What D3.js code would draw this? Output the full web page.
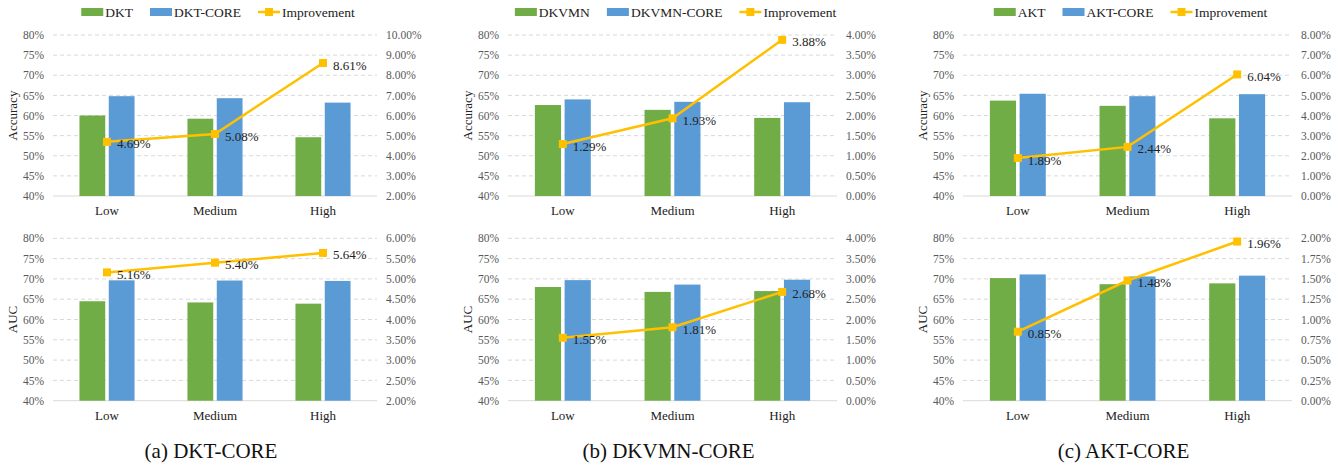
<!DOCTYPE html>
<html>
<head>
<meta charset="utf-8">
<script src="https://cdn.jsdelivr.net/npm/d3@7"></script>
<style>
  body { margin: 0; background: #fff; }
  svg { display: block; font-family: "Liberation Serif", "Times New Roman", serif; }
  svg text { font-family: "Liberation Serif", "Times New Roman", serif; }
</style>
</head>
<body>
<svg id="chart" width="1342" height="463"></svg>
<script>
// categories
const levels = ["Low", "Medium", "High"];

// DKT
const dktAcc = [60.0, 59.2, 54.6];
const dktCoreAcc = [64.8, 64.3, 63.2];
const dktAccImp = [4.69, 5.08, 8.61];
const dktAuc = [64.5, 64.2, 63.9];
const dktCoreAuc = [69.65, 69.6, 69.5];
const dktAucImp = [5.16, 5.40, 5.64];

// DKVMN
const dkvmnAcc = [62.6, 61.4, 59.4];
const dkvmnCoreAcc = [64.0, 63.4, 63.3];
const dkvmnAccImp = [1.29, 1.93, 3.88];
const dkvmnAuc = [68.0, 66.8, 67.0];
const dkvmnCoreAuc = [69.7, 68.6, 69.8];
const dkvmnAucImp = [1.55, 1.81, 2.68];

// AKT
const aktAcc = [63.7, 62.4, 59.3];
const aktCoreAcc = [65.4, 64.8, 65.3];
const aktAccImp = [1.89, 2.44, 6.04];
const aktAuc = [70.2, 68.7, 68.9];
const aktCoreAuc = [71.1, 70.6, 70.8];
const aktAucImp = [0.85, 1.48, 1.96];

// axis ranges
const leftDomain = [40, 80];
const leftTicks = [40, 45, 50, 55, 60, 65, 70, 75, 80];
const rightDomains = [[2, 10], [2, 6], [0, 4], [0, 4], [0, 8], [0, 2]];
const rightSteps = [1, 0.5, 0.5, 0.5, 1, 0.25];

const modelNames = [["DKT", "DKT-CORE"], ["DKVMN", "DKVMN-CORE"], ["AKT", "AKT-CORE"]];
const captions = ["(a) DKT-CORE", "(b) DKVMN-CORE", "(c) AKT-CORE"];
const rowTitles = ["Accuracy", "AUC"];

const panels = [
  { col: 0, row: 0, base: dktAcc, core: dktCoreAcc, imp: dktAccImp },
  { col: 0, row: 1, base: dktAuc, core: dktCoreAuc, imp: dktAucImp },
  { col: 1, row: 0, base: dkvmnAcc, core: dkvmnCoreAcc, imp: dkvmnAccImp },
  { col: 1, row: 1, base: dkvmnAuc, core: dkvmnCoreAuc, imp: dkvmnAucImp },
  { col: 2, row: 0, base: aktAcc, core: aktCoreAcc, imp: aktAccImp },
  { col: 2, row: 1, base: aktAuc, core: aktCoreAuc, imp: aktAucImp }
];

const green = "#70ad47", blue = "#5b9bd5", orange = "#ffc000";
const gridColor = "#d9d9d9", tickColor = "#595959";
const serif = "Liberation Serif, Times New Roman, serif";

// layout
const colX = [[53, 377], [508, 837], [963, 1292]];
const rowY = [[35, 196], [238.3, 400.7]];
const titleX = [12, 467, 922];

const svg = d3.select("#chart");

panels.forEach((p, i) => {
  const [x0, x1] = colX[p.col];
  const [yt, yb] = rowY[p.row];
  const g = svg.append("g");

  const x = d3.scaleBand().domain(levels).range([x0, x1]);
  const xs = d3.scaleBand().domain(["base", "core"]).range([0, x.bandwidth() * 0.51]).paddingInner(0.12);
  const groupOff = (x.bandwidth() - x.bandwidth() * 0.51) / 2;
  const y = d3.scaleLinear().domain(leftDomain).range([yb, yt]);
  const yr = d3.scaleLinear().domain(rightDomains[i]).range([yb, yt]);
  const rTicks = d3.range(rightDomains[i][0], rightDomains[i][1] + 1e-9, rightSteps[i]);

  // gridlines
  g.append("g").selectAll("line").data(leftTicks.slice(1)).join("line")
    .attr("x1", x0).attr("x2", x1)
    .attr("y1", d => y(d)).attr("y2", d => y(d))
    .attr("stroke", gridColor).attr("stroke-width", 1).attr("stroke-dasharray", "4,3");
  g.append("line").attr("x1", x0).attr("x2", x1).attr("y1", y(40)).attr("y2", y(40))
    .attr("stroke", gridColor).attr("stroke-width", 1);

  // left axis
  const la = g.append("g").attr("transform", `translate(${x0 - 9},0)`)
    .call(d3.axisLeft(y).tickValues(leftTicks).tickSize(0).tickPadding(0).tickFormat(d => d + "%"))
    .attr("font-family", serif);
  la.select(".domain").remove();
  la.selectAll("text").attr("fill", tickColor).style("font-size", "11.5px");

  // right axis
  const ra = g.append("g").attr("transform", `translate(${x1 + 9},0)`)
    .call(d3.axisRight(yr).tickValues(rTicks).tickSize(0).tickPadding(0).tickFormat(d => d.toFixed(2) + "%"))
    .attr("font-family", serif);
  ra.select(".domain").remove();
  ra.selectAll("text").attr("fill", tickColor).style("font-size", "11.5px");

  // category axis
  const ca = g.append("g").attr("transform", `translate(0,${yb + 10})`)
    .call(d3.axisBottom(x).tickSize(0).tickPadding(0))
    .attr("font-family", serif);
  ca.select(".domain").remove();
  ca.selectAll("text").attr("fill", "#222").style("font-size", "13px");

  // y title
  g.append("text")
    .attr("transform", `translate(${titleX[p.col]},${(yt + yb) / 2}) rotate(-90)`)
    .attr("text-anchor", "middle").attr("dy", "0.35em")
    .attr("fill", "#222").style("font-size", "13px")
    .text(rowTitles[p.row]);

  // bars
  const rows = levels.map((lv, k) => ({ lv, base: p.base[k], core: p.core[k], imp: p.imp[k] }));
  g.append("g").selectAll("rect").data(rows).join("rect")
    .attr("x", d => x(d.lv) + groupOff + xs("base"))
    .attr("width", xs.bandwidth())
    .attr("y", d => y(d.base))
    .attr("height", d => y(40) - y(d.base))
    .attr("fill", green);
  g.append("g").selectAll("rect").data(rows).join("rect")
    .attr("x", d => x(d.lv) + groupOff + xs("core"))
    .attr("width", xs.bandwidth())
    .attr("y", d => y(d.core))
    .attr("height", d => y(40) - y(d.core))
    .attr("fill", blue);

  // improvement line
  const cx = d => x(d.lv) + x.bandwidth() / 2;
  g.append("path").datum(rows)
    .attr("fill", "none").attr("stroke", orange).attr("stroke-width", 2.5)
    .attr("d", d3.line().x(cx).y(d => yr(d.imp)));
  g.append("g").selectAll("rect").data(rows).join("rect")
    .attr("x", d => cx(d) - 4).attr("y", d => yr(d.imp) - 4)
    .attr("width", 8).attr("height", 8).attr("fill", orange);
  g.append("g").selectAll("text").data(rows).join("text")
    .attr("x", d => cx(d) + 10).attr("y", d => yr(d.imp) + 2)
    .attr("dy", "0.35em").attr("fill", "#222").style("font-size", "13px")
    .text(d => d.imp.toFixed(2) + "%");
});

// legends and captions per column
colX.forEach(([x0, x1], c) => {
  const items = [
    { type: "bar", color: green, label: modelNames[c][0] },
    { type: "bar", color: blue, label: modelNames[c][1] },
    { type: "line", color: orange, label: "Improvement" }
  ];
  const lg = svg.append("g");
  let cur = 0;
  const swW = 22, gap = 17;
  items.forEach(it => {
    const ig = lg.append("g").attr("transform", `translate(${cur},0)`);
    if (it.type === "bar") {
      ig.append("rect").attr("x", 0).attr("y", -4).attr("width", swW).attr("height", 8).attr("fill", it.color);
    } else {
      ig.append("line").attr("x1", 0).attr("x2", swW).attr("y1", 0).attr("y2", 0)
        .attr("stroke", it.color).attr("stroke-width", 2.5);
      ig.append("rect").attr("x", swW / 2 - 4).attr("y", -4).attr("width", 8).attr("height", 8).attr("fill", it.color);
    }
    const t = ig.append("text").attr("x", swW + 2).attr("y", 0).attr("dy", "0.35em")
      .attr("fill", "#222").style("font-size", "13.5px").text(it.label);
    cur += swW + 2 + t.node().getComputedTextLength() + gap;
  });
  const total = cur - gap;
  lg.attr("transform", `translate(${(x0 + x1) / 2 - total / 2 + 3},12)`);

  svg.append("text")
    .attr("x", (x0 + x1) / 2 - 4).attr("y", 451).attr("dy", "0.35em")
    .attr("text-anchor", "middle").attr("fill", "#111").style("font-size", "21px")
    .text(captions[c]);
});
</script>
</body>
</html>
